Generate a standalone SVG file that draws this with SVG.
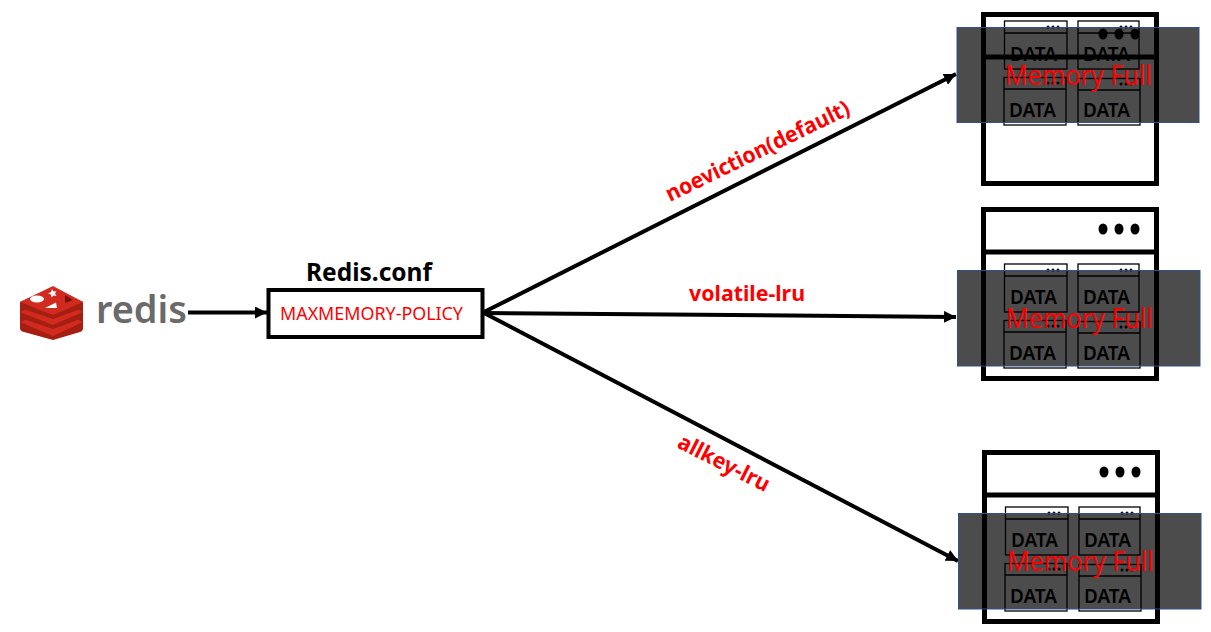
<svg xmlns="http://www.w3.org/2000/svg" width="1211" height="632" viewBox="0 0 1211 632">
<style>
text{font-family:"Noto Sans","Open Sans","Liberation Sans",sans-serif}
.frame{fill:#fff;stroke:#000;stroke-width:5}
.div{stroke:#000;stroke-width:5;fill:none}
.card{fill:#fff;stroke:#000;stroke-width:1.3}
.cdiv{stroke:#000;stroke-width:1.3}
.data{font-size:20px;font-weight:600;fill:#000}
.shade{fill:#000;fill-opacity:.7;stroke:#2f528f;stroke-width:1}
.full{font-size:27.5px;fill:#f00}
.lbl{font-size:22px;font-weight:700;fill:#f00}
.wire{stroke:#000;stroke-width:4;fill:none;marker-end:url(#ah)}
.l1{fill:#a41e11}.l2{fill:#d32a1f}
</style>
<defs>
<marker id="ah" markerUnits="userSpaceOnUse" markerWidth="13" markerHeight="12" refX="12" refY="6" orient="auto"><path d="M0 0L12 6L0 12z" fill="#000"/></marker>
<g id="dots"><ellipse cx="1103" cy="229" rx="4.5" ry="5.500"/><ellipse cx="1119" cy="229" rx="4.5" ry="5.500"/><ellipse cx="1135" cy="229" rx="4.5" ry="5.500"/></g>
<g id="mini"><circle cx="0" cy="0" r="1.500"/><circle cx="5" cy="0" r="1.500"/><circle cx="10" cy="0" r="1.500"/></g>
<g id="cards">
<rect class="card" x="1004.500" y="264" width="62.500" height="48"/><line class="cdiv" x1="1004.500" y1="276" x2="1067" y2="276"/><use href="#mini" x="1048" y="270"/><text class="data" x="1010" y="304" textLength="47" lengthAdjust="spacingAndGlyphs">DATA</text>
<rect class="card" x="1078" y="264" width="61" height="48"/><line class="cdiv" x1="1078" y1="276" x2="1139" y2="276"/><use href="#mini" x="1121" y="270"/><text class="data" x="1083" y="304" textLength="47" lengthAdjust="spacingAndGlyphs">DATA</text>
<rect class="card" x="1004" y="320.500" width="62" height="47.500"/><line class="cdiv" x1="1004" y1="332" x2="1066" y2="332"/><use href="#mini" x="1048" y="326"/><text class="data" x="1009" y="360" textLength="47" lengthAdjust="spacingAndGlyphs">DATA</text>
<rect class="card" x="1078" y="321.500" width="62" height="46.500"/><line class="cdiv" x1="1078" y1="333" x2="1140" y2="333"/><use href="#mini" x="1121" y="327"/><text class="data" x="1083" y="360" textLength="47" lengthAdjust="spacingAndGlyphs">DATA</text>
</g>
</defs>

<g id="connectors">
<line class="wire" x1="188" y1="312.500" x2="267" y2="312.500"/>
<line class="wire" x1="484" y1="312" x2="956" y2="74"/>
<line class="wire" x1="484" y1="313" x2="956" y2="317"/>
<line class="wire" x1="484" y1="313" x2="958" y2="561"/>
</g>

<g id="redis-logo">
<path class="l1" d="M20 318L53 303L83 318V328Q83 331 80 332L53 340L24 332Q20 331 20 328z"/>
<path class="l2" d="M20 322L53 309L83 322L53 336z"/>
<path class="l1" d="M20 307L53 293L83 307V318L53 329L20 318z"/>
<path class="l2" d="M20 312L53 298L83 312L53 325z"/>
<path class="l1" d="M20 302L53 287L83 302V308L53 319L20 308z"/>
<path class="l2" d="M20 302L53 286L83 302L53 315z"/>
<ellipse cx="37" cy="299" rx="7" ry="3.500" fill="#fff"/>
<path d="M52 289l1.500 2.500 3-.5-1.500 2.500 1.500 2.500-3-.5-2 2-.5-3-3-1 3-1.500z" fill="#fff"/>
<path d="M45 308L56 302.500L57 308z" fill="#fff"/>
<path d="M65 295L73 300L65 303z" fill="#7a1209"/>
<text x="96" y="323" font-size="38" font-weight="600" fill="#6a6a6a" textLength="91" lengthAdjust="spacingAndGlyphs">redis</text>
</g>

<g id="redis-conf">
<text x="306" y="281" font-size="25" font-weight="700" fill="#000" textLength="126" lengthAdjust="spacingAndGlyphs">Redis.conf</text>
<rect x="268.500" y="290" width="214" height="47" fill="#fff" stroke="#000" stroke-width="4"/>
<text x="280" y="320" font-size="18.500" fill="#f00" textLength="183" lengthAdjust="spacingAndGlyphs">MAXMEMORY-POLICY</text>
</g>

<g id="label-noeviction"><text class="lbl" transform="translate(670 202) rotate(-26)" textLength="202" lengthAdjust="spacingAndGlyphs">noeviction(default)</text></g>
<g id="label-volatile"><text class="lbl" x="689" y="300.500" textLength="116" lengthAdjust="spacingAndGlyphs">volatile-lru</text></g>
<g id="label-allkey"><text class="lbl" transform="translate(676 447) rotate(27)" textLength="100" lengthAdjust="spacingAndGlyphs">allkey-lru</text></g>

<g id="server-noeviction">
<rect class="frame" x="983.500" y="14.500" width="173" height="169"/>
<use href="#cards" y="-243"/>
<line class="div" x1="983.500" y1="57" x2="1156.500" y2="57"/>
<use href="#dots" y="-195"/>
<rect class="shade" x="957" y="27.500" width="242" height="95"/>
<text class="full" x="1005" y="85" textLength="147" lengthAdjust="spacingAndGlyphs">Memory Full</text>
</g>

<g id="server-volatile">
<rect class="frame" x="983.500" y="209.500" width="173" height="169"/>
<line class="div" x1="983.500" y1="252" x2="1156.500" y2="252"/>
<use href="#dots"/>
<use href="#cards"/>
<rect class="shade" x="957.500" y="270.500" width="242.500" height="95.500"/>
<text class="full" x="1006" y="328" textLength="147" lengthAdjust="spacingAndGlyphs">Memory Full</text>
</g>

<g id="server-allkey">
<rect class="frame" x="984.500" y="452.500" width="173" height="169"/>
<line class="div" x1="984.500" y1="495" x2="1157.500" y2="495"/>
<use href="#dots" x="1" y="243"/>
<use href="#cards" x="1" y="243"/>
<rect class="shade" x="958.500" y="513.500" width="242.500" height="95.500"/>
<text class="full" x="1007" y="571" textLength="147" lengthAdjust="spacingAndGlyphs">Memory Full</text>
</g>
</svg>
